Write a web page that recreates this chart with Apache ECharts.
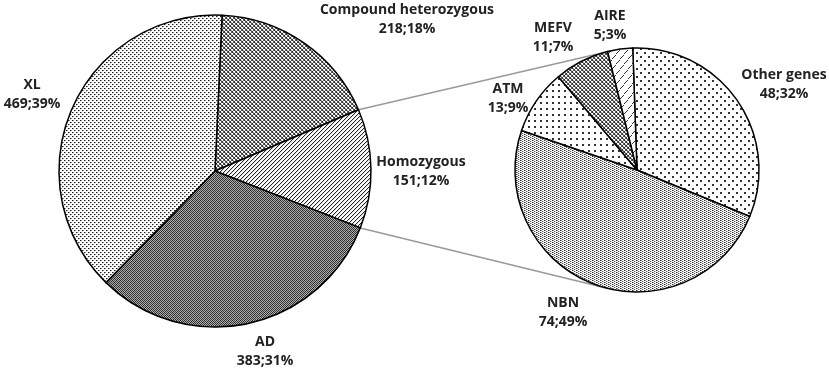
<!DOCTYPE html>
<html>
<head>
<meta charset="utf-8">
<script src="https://cdn.jsdelivr.net/npm/echarts@6/dist/echarts.min.js"></script>
<style>
  html, body { margin: 0; padding: 0; background: #fff; }
  #chart { width: 829px; height: 375px; }
</style>
</head>
<body>
<div id="chart"></div>
<script>
// main pie: inheritance groups
const mainNames = ["Compound heterozygous", "Homozygous", "AD", "XL"];
const mainValues = [218, 151, 383, 469];
const mainPct = ["18%", "12%", "31%", "39%"];
// secondary pie: genes in the homozygous group
const subNames = ["Other genes", "NBN", "ATM", "MEFV", "AIRE"];
const subValues = [48, 74, 13, 11, 5];
const subPct = ["32%", "49%", "9%", "7%", "3%"];

// geometry
const mainCenter = [215, 171], mainR = 156, mainStart = 87.4;
const subCenter = [637, 170], subR = 122, subStart = 92;
const mainLabelPos = [[407, 20], [421, 172], [265, 352], [32, 95]];
const subLabelPos = [[784, 85], [563, 313], [508, 99], [553, 38], [610, 26]];

// small canvas tiles used as fill patterns
function tile(w, h, bg, cells) {
  const c = document.createElement("canvas");
  c.width = w; c.height = h;
  const g = c.getContext("2d");
  g.fillStyle = bg; g.fillRect(0, 0, w, h);
  cells.forEach(function (p) {
    g.fillStyle = p[2] || "#000";
    g.fillRect(p[0], p[1], p[3] || 1, p[4] || 1);
  });
  return { image: c, repeat: "repeat" };
}
const crossHatch = tile(4, 4, "#fff", [
  [0, 0, "#333"], [1, 1, "#555"], [2, 2, "#333"], [3, 3, "#555"],
  [3, 0, "#555"], [2, 1, "#333"], [1, 2, "#555"], [0, 3, "#333"], [1, 0, "#aaa"], [3, 2, "#aaa"]
]);
const stripes = tile(4, 4, "#fff", [
  [3, 0, "#222"], [2, 1, "#222"], [1, 2, "#222"], [0, 3, "#222"],
  [0, 0, "#ddd"], [3, 1, "#ddd"], [2, 2, "#ddd"], [1, 3, "#ddd"]
]);
const darkDots = tile(4, 4, "#b0b0b0", [
  [0, 0, "#222"], [2, 0, "#444"], [1, 1, "#333"], [3, 1, "#222"],
  [0, 2, "#444"], [2, 2, "#222"], [1, 3, "#222"], [3, 3, "#333"]
]);
const lightDots = tile(4, 4, "#fff", [
  [0, 0, "#222"], [1, 0, "#888"], [2, 2, "#222"], [3, 2, "#888"], [0, 1, "#ddd"], [2, 3, "#ddd"]
]);
const fineDots = tile(4, 4, "#fff", [
  [0, 0, "#333"], [1, 0, "#999"], [2, 1, "#555"], [0, 2, "#333"], [1, 2, "#999"], [2, 3, "#555"], [3, 1, "#ccc"], [3, 3, "#ccc"]
]);
const sparseDots = tile(8, 8, "#fff", [
  [0, 0, "#333", 2, 2], [4, 4, "#333", 2, 2]
]);
const gridDots = tile(6, 6, "#fff", [
  [0, 0, "#333", 2, 2]
]);
const dashes = tile(8, 10, "#fff", [
  [3, 0, "#333"], [2, 1, "#333"], [1, 2, "#333"], [0, 3, "#333"],
  [7, 5, "#333"], [6, 6, "#333"], [5, 7, "#333"], [4, 8, "#333"]
]);

const mainFills = [crossHatch, stripes, darkDots, lightDots];
const subFills = [sparseDots, fineDots, gridDots, crossHatch, dashes];

function pieData(names, values, pct, fills) {
  return names.map(function (n, i) {
    return { name: n, value: values[i], pct: pct[i], itemStyle: { color: fills[i] } };
  });
}

// connector lines: edges of the homozygous slice, tangent to the secondary pie
function slicePoint(idx, end) {
  const total = mainValues.reduce(function (a, b) { return a + b; }, 0);
  let acc = 0;
  for (let i = 0; i < idx + (end ? 1 : 0); i++) acc += mainValues[i];
  const phi = (90 - mainStart + acc / total * 360) * Math.PI / 180;
  return [mainCenter[0] + mainR * Math.sin(phi), mainCenter[1] - mainR * Math.cos(phi)];
}
function tangent(p, upper) {
  const dx = p[0] - subCenter[0], dy = p[1] - subCenter[1];
  const d = Math.sqrt(dx * dx + dy * dy);
  const th = Math.atan2(dy, dx), a = Math.acos(subR / d);
  const t1 = [subCenter[0] + subR * Math.cos(th + a), subCenter[1] + subR * Math.sin(th + a)];
  const t2 = [subCenter[0] + subR * Math.cos(th - a), subCenter[1] + subR * Math.sin(th - a)];
  if (upper) return t1[1] < t2[1] ? t1 : t2;
  return t1[1] > t2[1] ? t1 : t2;
}
const hIdx = mainNames.indexOf("Homozygous");
const pTop = slicePoint(hIdx, false), pBot = slicePoint(hIdx, true);
const tTop = tangent(pTop, true), tBot = tangent(pBot, false);

const labelStyle = {
  show: true,
  formatter: function (p) { return p.name + "\n" + p.value + ";" + p.data.pct; },
  fontFamily: "Open Sans",
  fontWeight: "bold",
  fontSize: 14,
  lineHeight: 19,
  color: "#222",
  align: "center"
};

function layoutFrom(pos) {
  return function (params) {
    const p = pos[params.dataIndex];
    return { x: p[0], y: p[1], align: "center", verticalAlign: "middle" };
  };
}

const chart = echarts.init(document.getElementById("chart"));
chart.setOption({
  animation: false,
  backgroundColor: "#fff",
  graphic: [
    { type: "line", z: 0, shape: { x1: pTop[0], y1: pTop[1], x2: tTop[0], y2: tTop[1] }, style: { stroke: "#9a9a9a", lineWidth: 1.5 } },
    { type: "line", z: 0, shape: { x1: pBot[0], y1: pBot[1], x2: tBot[0], y2: tBot[1] }, style: { stroke: "#9a9a9a", lineWidth: 1.5 } }
  ],
  series: [
    {
      type: "pie",
      center: mainCenter,
      radius: mainR,
      startAngle: mainStart,
      clockwise: true,
      avoidLabelOverlap: false,
      emphasis: { disabled: true },
      itemStyle: { borderColor: "#000", borderWidth: 1.5 },
      label: labelStyle,
      labelLine: { show: false },
      labelLayout: layoutFrom(mainLabelPos),
      data: pieData(mainNames, mainValues, mainPct, mainFills)
    },
    {
      type: "pie",
      center: subCenter,
      radius: subR,
      startAngle: subStart,
      clockwise: true,
      avoidLabelOverlap: false,
      emphasis: { disabled: true },
      itemStyle: { borderColor: "#000", borderWidth: 1.5 },
      label: labelStyle,
      labelLine: { show: false },
      labelLayout: layoutFrom(subLabelPos),
      data: pieData(subNames, subValues, subPct, subFills)
    }
  ]
});
</script>
</body>
</html>
